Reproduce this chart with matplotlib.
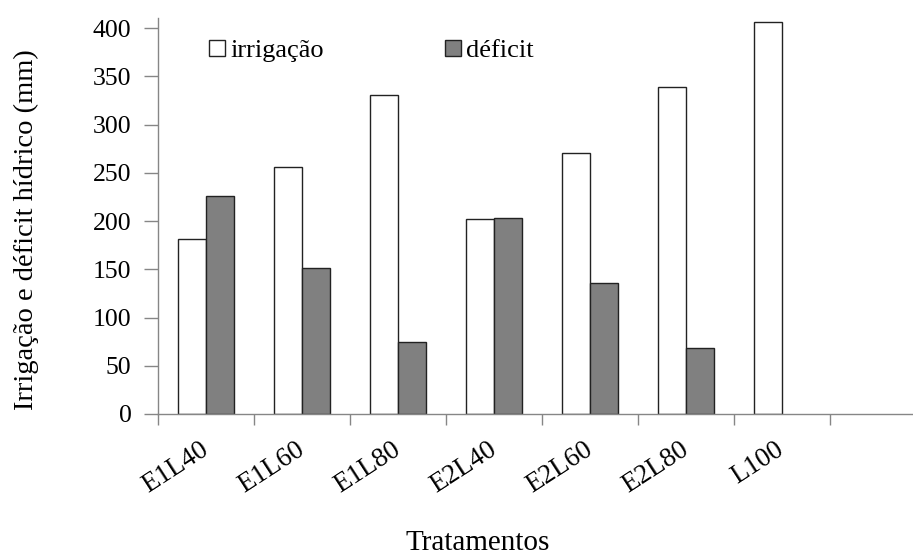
import numpy as np
import matplotlib.pyplot as plt

# treatment values (mm)
tratamentos = ["E1L40", "E1L60", "E1L80", "E2L40", "E2L60", "E2L80", "L100"]
irrigacao = [181, 256, 331, 202, 271, 339, 406]
deficit = [226, 151, 75, 203, 136, 68, np.nan]

plt.rcParams['font.family'] = ['Liberation Serif', 'DejaVu Serif']
plt.rcParams['font.size'] = 18

fig = plt.figure(figsize=(9.13, 5.55), dpi=100)
# axis runs one empty category past the right edge of the figure
ax = fig.add_axes([158 / 913, 141 / 555, 768 / 913, 395.6 / 555])

n_cat = 8
w = 28 / 96
x = np.arange(len(tratamentos))
ax.bar(x + 20 / 96, irrigacao, width=w, align='edge', color='white',
       edgecolor='#222222', linewidth=1.0, label='irrigação')
ok = ~np.isnan(np.array(deficit, dtype=float))
ax.bar((x + 48 / 96)[ok], np.array(deficit)[ok], width=w, align='edge',
       color='#808080', edgecolor='#222222', linewidth=1.0, label='déficit')

ax.set_xlim(0, n_cat)
ax.set_ylim(0, 410)
ax.set_yticks(np.arange(0, 401, 50))

# category boundaries get the tick marks, centres get the labels
ax.set_xticks(np.arange(0, n_cat + 1), minor=True)
ax.set_xticks(x + 0.5)
ax.set_xticklabels(tratamentos, rotation=33, ha='right', va='center',
                   rotation_mode='anchor')
ax.tick_params(axis='x', which='major', length=0, pad=24, labelsize=19.5)
ax.tick_params(axis='x', which='minor', length=8, width=1, color='#868686',
               direction='out')
ax.tick_params(axis='y', length=10, width=1, color='#868686', pad=9,
               labelsize=18.5)

for side in ('top', 'right'):
    ax.spines[side].set_visible(False)
for side in ('left', 'bottom'):
    ax.spines[side].set_color('#868686')
    ax.spines[side].set_linewidth(1)

ax.set_ylabel('Irrigação e déficit hídrico (mm)', fontsize=20.5)
ax.yaxis.set_label_coords(-0.155, 0.465)
fig.text(478 / 913, 1 - 543 / 555, 'Tratamentos', fontsize=21,
         ha='center', va='center')

leg = ax.legend(loc='upper left', bbox_to_anchor=(0.053, 0.973), ncol=2,
                frameon=False, fontsize=19, handlelength=0.6,
                handleheight=0.6, handletextpad=0.2, columnspacing=4.6,
                borderaxespad=0)

fig.savefig('out.png', dpi=100)
